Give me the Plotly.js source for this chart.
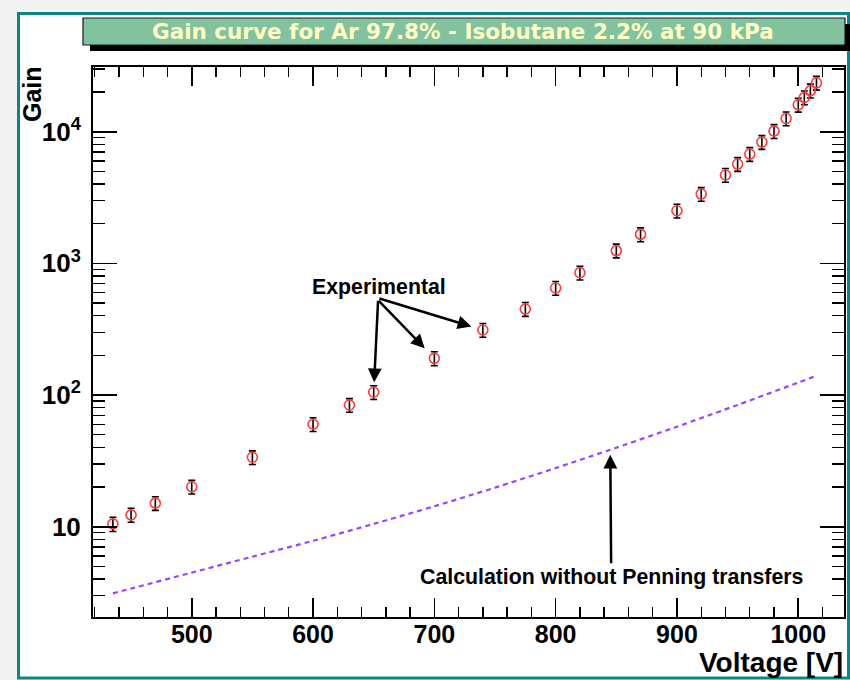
<!DOCTYPE html>
<html>
<head>
<meta charset="utf-8">
<script src="https://cdn.plot.ly/plotly-3.0.1.min.js"></script>
<style>
  html, body { margin: 0; padding: 0; background: #f3f3f3; }
  #chart { width: 850px; height: 680px; }
</style>
</head>
<body>
<div id="chart"></div>
<script>
// Measured gas gain versus anode voltage (Ar 97.8% / iC4H10 2.2%, 90 kPa)
const voltage = [435, 450, 470, 500, 550, 600, 630, 650, 700, 740, 775, 800, 820, 850,
                 870, 900, 920, 940, 950, 960, 970, 980, 990, 1000, 1005, 1010, 1015];
const gain = [10.5, 12.3, 15.1, 20.1, 33.7, 60, 84, 105, 190, 312, 450, 650, 850, 1250,
              1660, 2510, 3360, 4690, 5680, 6760, 8340, 10100, 12600, 16000, 18200, 20500, 23500];
const gainErr = [1.3, 1.5, 1.8, 2.4, 4.0, 7.2, 10, 12.6, 23, 37, 54, 78, 102, 150,
                 200, 300, 400, 560, 680, 810, 1000, 1210, 1510, 1920, 2180, 2460, 2820];

// Simulated gain when Penning transfers are switched off
const calcVoltage = [435, 450, 500, 550, 600, 650, 700, 750, 800, 850, 900, 950, 1000, 1015];
const calcGain = [3.12, 3.39, 4.48, 5.92, 7.82, 10.5, 14.3, 19.8, 27.9, 39.8, 57.5, 84.1, 124.5, 140];

// Axis ticks
const xTickVals = [500, 600, 700, 800, 900, 1000];
const xTickText = ['500', '600', '700', '800', '900', '1000'];
const yTickVals = [10, 100, 1000, 10000];
const yTickText = ['10', '10<sup>2</sup>', '10<sup>3</sup>', '10<sup>4</sup>'];

const titleText = 'Gain curve for Ar 97.8% - Isobutane 2.2% at 90 kPa';

// Plot area in page pixels, used to place the frame decorations
const L = 93, R = 844, T = 67, B = 617;
const px = x => (x - L) / (R - L);
const py = y => (B - y) / (B - T);

// minor ticks of the log axis: 2..9 times each decade
const yMinor = [];
for (let e = 0; e <= 4; e++) {
  for (let m = 2; m <= 9; m++) yMinor.push(m * Math.pow(10, e));
}

const FONT = 'Liberation Sans, Arial, Helvetica, sans-serif';
const black = '#000';

const measured = {
  type: 'scatter',
  mode: 'markers',
  x: voltage,
  y: gain,
  error_y: { type: 'data', array: gainErr, visible: true, color: black, thickness: 1.6, width: 3.5 },
  marker: { symbol: 'circle-open', size: 10, color: '#ff3a3a', line: { width: 1.6, color: '#ff3a3a' } },
  showlegend: false,
  hoverinfo: 'skip'
};

const calculated = {
  type: 'scatter',
  mode: 'lines',
  x: calcVoltage,
  y: calcGain,
  line: { color: '#9a44ff', width: 2.2, dash: '5px,4px', shape: 'spline', smoothing: 0.6 },
  showlegend: false,
  hoverinfo: 'skip'
};

// gain of the calculated curve at a voltage (log interpolation) for the arrow tip
function calcAt(v) {
  for (let i = 0; i < calcVoltage.length - 1; i++) {
    if (v >= calcVoltage[i] && v <= calcVoltage[i + 1]) {
      const f = (v - calcVoltage[i]) / (calcVoltage[i + 1] - calcVoltage[i]);
      return Math.log10(calcGain[i]) * (1 - f) + Math.log10(calcGain[i + 1]) * f;
    }
  }
  return Math.log10(calcGain[calcVoltage.length - 1]);
}

const arrowStyle = { showarrow: true, arrowhead: 2, arrowsize: 1.1, arrowwidth: 2.5, arrowcolor: black,
                     xref: 'x', yref: 'y' };
const labelFont = { family: FONT, size: 21.3, color: black, weight: 'bold' };

const annotations = [
  // title inside the green banner
  { xref: 'paper', yref: 'paper', x: px(463), y: py(31.5), xanchor: 'center', yanchor: 'middle',
    text: titleText, showarrow: false,
    font: { family: 'DejaVu Sans, Verdana, sans-serif', size: 21.5, color: '#ffffc4', weight: 'bold' } },
  // axis titles
  { xref: 'paper', yref: 'paper', x: px(32), y: py(94), xanchor: 'center', yanchor: 'middle',
    text: 'Gain', textangle: -90, showarrow: false,
    font: { family: FONT, size: 25, color: black, weight: 'bold' } },
  { xref: 'paper', yref: 'paper', x: px(845), y: py(662), xanchor: 'right', yanchor: 'middle',
    text: 'Voltage [V]', showarrow: false,
    font: { family: FONT, size: 28, color: black, weight: 'bold' } },
  // label with its arrow to the 650 V point
  Object.assign({}, arrowStyle, { x: voltage[7], y: Math.log10(gain[7]), ax: 5, ay: -105, standoff: 10,
    text: 'Experimental', font: labelFont }),
  // further arrows to the 700 V and 740 V points
  Object.assign({}, arrowStyle, { x: voltage[8], y: Math.log10(gain[8]), ax: -57, ay: -59, standoff: 14, text: '' }),
  Object.assign({}, arrowStyle, { x: voltage[9], y: Math.log10(gain[9]), ax: -105, ay: -32, standoff: 12, text: '' }),
  // label with its arrow to the calculated curve
  Object.assign({}, arrowStyle, { x: 845, y: calcAt(845), ax: 1, ay: 127, standoff: 5,
    text: 'Calculation without Penning transfers', font: labelFont })
];

const shapes = [
  // white canvas with teal outline
  { type: 'rect', xref: 'paper', yref: 'paper', layer: 'below',
    x0: px(18.5), x1: px(848.5), y0: py(678), y1: py(13.5),
    fillcolor: '#ffffff', line: { color: '#0d8682', width: 3 } },
  // title banner shadow and banner
  { type: 'rect', xref: 'paper', yref: 'paper',
    x0: px(90), x1: px(851), y0: py(51), y1: py(24),
    fillcolor: '#000000', line: { width: 0 } },
  { type: 'rect', xref: 'paper', yref: 'paper',
    x0: px(83), x1: px(845), y0: py(45), y1: py(18),
    fillcolor: '#82c29f', line: { color: '#1a1a1a', width: 1.2 } }
];

const layout = {
  width: 850,
  height: 680,
  margin: { l: L, r: 850 - R, t: T, b: 680 - B, pad: 0 },
  paper_bgcolor: '#f3f3f3',
  plot_bgcolor: '#ffffff',
  showlegend: false,
  xaxis: {
    type: 'linear',
    range: [418.6, 1037.7],
    tickmode: 'array',
    tickvals: xTickVals,
    ticktext: xTickText,
    ticks: 'inside', ticklen: 19, tickwidth: 1.6, tickcolor: black,
    minor: { dtick: 20, tick0: 0, ticks: 'inside', ticklen: 10, tickwidth: 1.4, tickcolor: black, showgrid: false },
    showline: true, linecolor: black, linewidth: 2, mirror: 'ticks',
    showgrid: false, zeroline: false,
    ticklabelstandoff: -6,
    tickfont: { family: FONT, size: 25, color: black, weight: 'bold' }
  },
  yaxis: {
    type: 'log',
    range: [0.3143, 4.4914],
    tickmode: 'array',
    tickvals: yTickVals,
    ticktext: yTickText,
    ticks: 'inside', ticklen: 24, tickwidth: 1.6, tickcolor: black,
    minor: { tickmode: 'array', tickvals: yMinor, ticks: 'inside', ticklen: 12, tickwidth: 1.4, tickcolor: black, showgrid: false },
    showline: true, linecolor: black, linewidth: 2, mirror: 'ticks',
    showgrid: false, zeroline: false,
    ticklabelstandoff: 5,
    tickfont: { family: FONT, size: 26, color: black, weight: 'bold' }
  },
  shapes: shapes,
  annotations: annotations
};

Plotly.newPlot('chart', [calculated, measured], layout, { staticPlot: true, displayModeBar: false });
</script>
</body>
</html>
